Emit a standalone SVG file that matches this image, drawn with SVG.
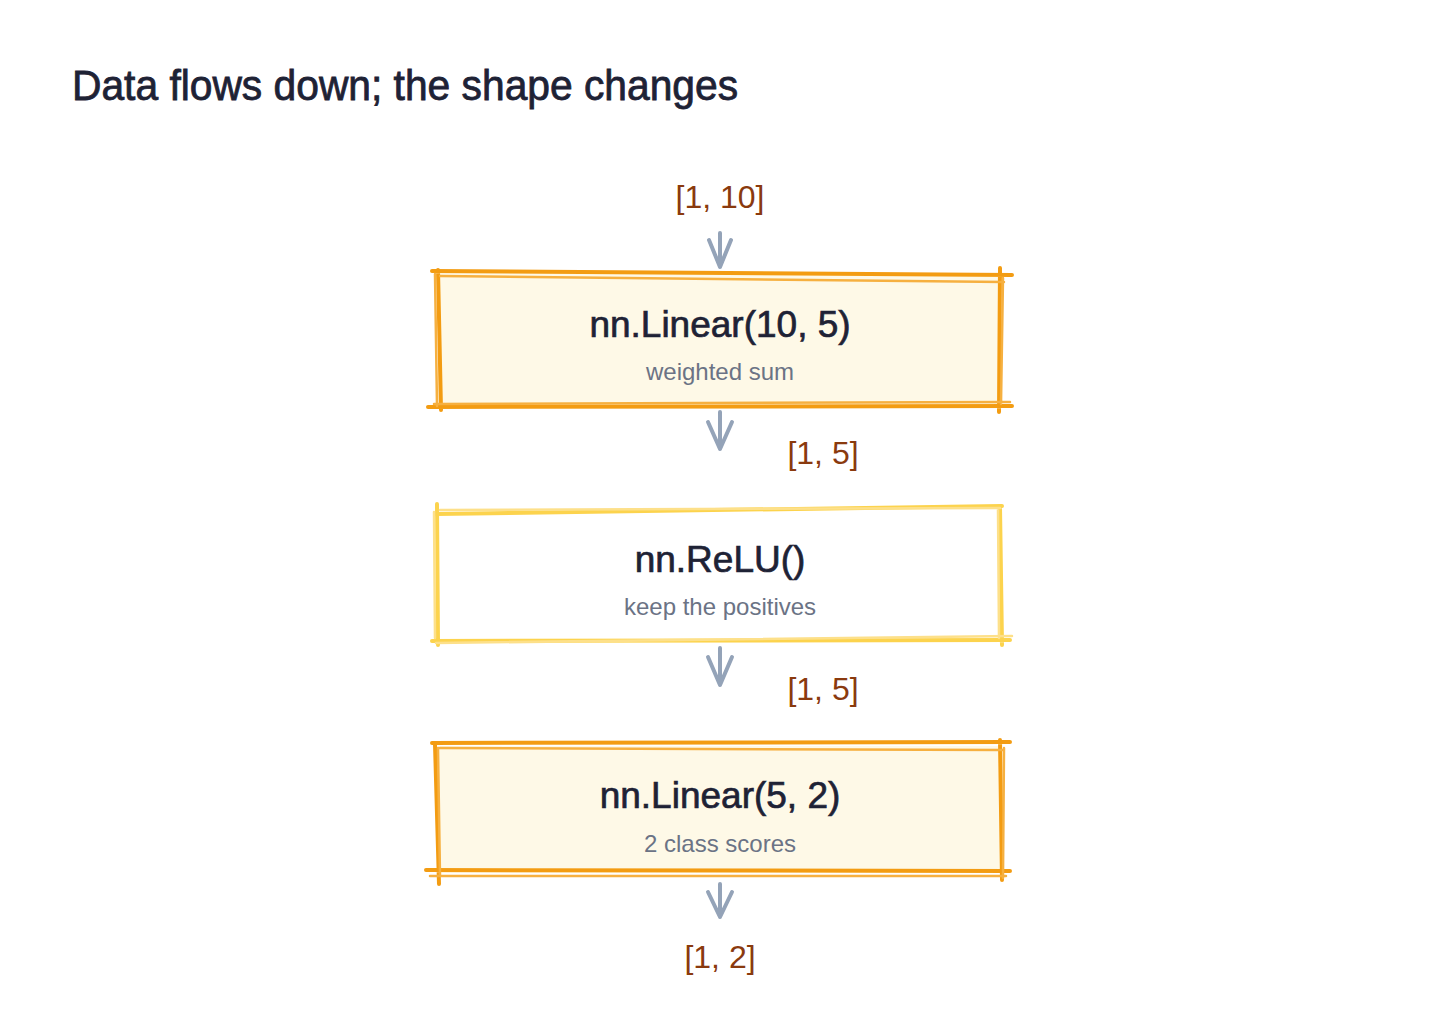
<svg xmlns="http://www.w3.org/2000/svg" width="1440" height="1010" viewBox="0 0 1440 1010">
<style>
.title{font-family:"Liberation Sans",Arial,sans-serif;font-size:42px;fill:#1e2235;stroke:#1e2235;stroke-width:0.8;}
.main{font-family:"Liberation Sans",Arial,sans-serif;font-size:37px;fill:#1e2235;stroke:#1e2235;stroke-width:0.7;text-anchor:middle;}
.sub{font-family:"Liberation Sans",Arial,sans-serif;font-size:24px;fill:#6b7385;text-anchor:middle;}
.shape{font-family:"Liberation Sans",Arial,sans-serif;font-size:32px;fill:#8a3a0e;text-anchor:middle;}
.orange{stroke:#f39c12;stroke-width:4;fill:none;stroke-linecap:round;}
.orange2{stroke:#f6b040;stroke-width:2.5;fill:none;stroke-linecap:round;}
.yellow{stroke:#fcd34d;stroke-width:4;fill:none;stroke-linecap:round;}
.yellow2{stroke:#fde08a;stroke-width:2.5;fill:none;stroke-linecap:round;}
.conn{stroke:#94a3b8;stroke-width:4;fill:none;stroke-linecap:round;stroke-linejoin:round;}
</style>
<rect width="1440" height="1010" fill="#ffffff"/>
<text class="title" x="72" y="100" textLength="666" lengthAdjust="spacingAndGlyphs">Data flows down; the shape changes</text>

<g id="node-linear1">
<rect x="438" y="273" width="562" height="133" fill="#fef9e7"/>
<path class="orange" d="M432 271 L1012 275 M428 407 L1012 406 M438 270 L441 410 M1000 268 L999 412"/>
<path class="orange2" d="M440 276 L1004 282 M434 404 L1010 402 M435 274 L437 406 M1003 278 L1001 404"/>
<text class="main" x="720" y="337">nn.Linear(10, 5)</text>
<text class="sub" x="720" y="380">weighted sum</text>
</g>

<g id="node-relu">
<rect x="438" y="509" width="562" height="132" fill="#ffffff"/>
<path class="yellow" d="M436 514 L1002 506 M432 641 L1010 640 M437 504 L438 645 M1000 507 L1002 645"/>
<path class="yellow2" d="M440 510 L1000 508 M436 643 L1012 636 M434 512 L435 638 M998 510 L999 638"/>
<text class="main" x="720" y="572">nn.ReLU()</text>
<text class="sub" x="720" y="615">keep the positives</text>
</g>

<g id="node-linear2">
<rect x="438" y="746" width="562" height="127" fill="#fef9e7"/>
<path class="orange" d="M432 743 L1010 742 M426 870 L1010 871 M435 744 L439 884 M1000 740 L1002 880"/>
<path class="orange2" d="M440 748 L1004 750 M430 876 L1006 876 M438 748 L440 876 M1004 748 L1003 878"/>
<text class="main" x="720" y="808">nn.Linear(5, 2)</text>
<text class="sub" x="720" y="852">2 class scores</text>
</g>

<g id="labels">
<text class="shape" x="720" y="208">[1, 10]</text>
<text class="shape" x="823" y="464">[1, 5]</text>
<text class="shape" x="823" y="700">[1, 5]</text>
<text class="shape" x="720" y="968">[1, 2]</text>
</g>

<g id="connectors">
<path class="conn" d="M720 233 L720 267 M709 240 L720 267 L731 240"/>
<path class="conn" d="M720 412 L720 449 M708 422 L720 449 L732 422"/>
<path class="conn" d="M720 648 L720 685 M708 657 L720 685 L732 657"/>
<path class="conn" d="M720 884 L720 917 M708 892 L720 917 L732 892"/>
</g>
</svg>
